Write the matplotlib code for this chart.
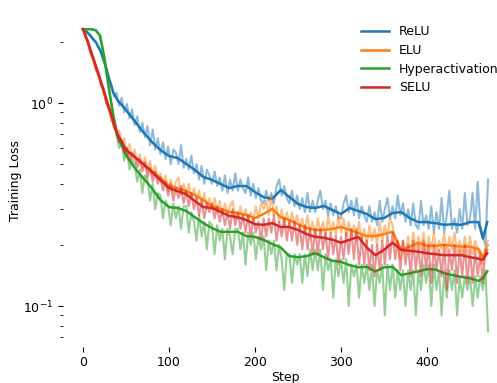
import matplotlib
matplotlib.use("Agg")
import matplotlib.pyplot as plt

plt.rcParams["font.size"] = 9

# raw training loss, one reading every 3 steps (0 .. 471)
raw_steps = list(range(0, 472, 3))

relu_raw = [2.31, 2.27, 2.19, 2.15, 2.03, 2.01, 1.86, 1.80, 1.60, 1.50,
            1.31, 1.24, 1.08, 1.12, 0.97, 1.06, 0.90, 0.99, 0.84, 0.93,
            0.78, 0.86, 0.72, 0.80, 0.68, 0.77, 0.62, 0.74, 0.59, 0.67,
            0.56, 0.64, 0.53, 0.61, 0.50, 0.59, 0.57, 0.50, 0.62, 0.48,
            0.53, 0.47, 0.55, 0.45, 0.50, 0.42, 0.49, 0.40, 0.47, 0.44,
            0.40, 0.46, 0.39, 0.43, 0.37, 0.44, 0.36, 0.42, 0.37, 0.45,
            0.37, 0.42, 0.38, 0.36, 0.43, 0.35, 0.40, 0.34, 0.38, 0.33,
            0.32, 0.37, 0.33, 0.36, 0.32, 0.39, 0.42, 0.35, 0.39, 0.34,
            0.32, 0.37, 0.31, 0.35, 0.30, 0.34, 0.29, 0.36, 0.29, 0.33,
            0.29, 0.33, 0.37, 0.30, 0.33, 0.28, 0.32, 0.28, 0.31, 0.27,
            0.27, 0.32, 0.35, 0.29, 0.33, 0.28, 0.34, 0.27, 0.31, 0.28,
            0.26, 0.31, 0.26, 0.29, 0.25, 0.33, 0.26, 0.30, 0.34, 0.27,
            0.31, 0.27, 0.35, 0.28, 0.32, 0.26, 0.30, 0.25, 0.32, 0.25,
            0.24, 0.33, 0.25, 0.28, 0.24, 0.31, 0.23, 0.29, 0.24, 0.34,
            0.23, 0.28, 0.37, 0.24, 0.27, 0.23, 0.30, 0.24, 0.36, 0.25,
            0.27, 0.36, 0.24, 0.41, 0.25, 0.22, 0.20, 0.42]

elu_raw = [2.31, 2.10, 1.98, 1.74, 1.66, 1.45, 1.40, 1.21, 1.16, 0.99,
           0.96, 0.82, 0.80, 0.69, 0.73, 0.62, 0.67, 0.56, 0.63, 0.53,
           0.59, 0.51, 0.56, 0.48, 0.54, 0.46, 0.52, 0.44, 0.49, 0.42,
           0.45, 0.40, 0.44, 0.37, 0.42, 0.36, 0.41, 0.43, 0.35, 0.40,
           0.35, 0.40, 0.34, 0.38, 0.33, 0.37, 0.31, 0.36, 0.30, 0.34,
           0.30, 0.34, 0.29, 0.33, 0.28, 0.32, 0.28, 0.31, 0.33, 0.27,
           0.27, 0.31, 0.27, 0.30, 0.26, 0.29, 0.26, 0.31, 0.27, 0.32,
           0.30, 0.33, 0.28, 0.35, 0.28, 0.31, 0.26, 0.30, 0.25, 0.29,
           0.25, 0.29, 0.25, 0.28, 0.24, 0.27, 0.23, 0.28, 0.23, 0.26,
           0.22, 0.27, 0.23, 0.26, 0.22, 0.28, 0.23, 0.26, 0.22, 0.28,
           0.23, 0.27, 0.22, 0.26, 0.22, 0.25, 0.21, 0.26, 0.21, 0.24,
           0.20, 0.25, 0.21, 0.24, 0.20, 0.26, 0.21, 0.25, 0.22, 0.27,
           0.25, 0.21, 0.20, 0.17, 0.21, 0.18, 0.22, 0.18, 0.23, 0.19,
           0.22, 0.19, 0.23, 0.18, 0.22, 0.19, 0.23, 0.18, 0.21, 0.19,
           0.23, 0.18, 0.22, 0.19, 0.23, 0.18, 0.21, 0.18, 0.22, 0.18,
           0.22, 0.18, 0.21, 0.19, 0.17, 0.16, 0.20, 0.21]

hyper_raw = [2.31, 2.31, 2.31, 2.31, 2.30, 2.28, 2.20, 2.00, 1.72, 1.42,
             1.17, 0.98, 0.83, 0.70, 0.60, 0.64, 0.52, 0.60, 0.47, 0.53,
             0.50, 0.41, 0.47, 0.36, 0.44, 0.42, 0.33, 0.40, 0.30, 0.36,
             0.35, 0.27, 0.33, 0.31, 0.25, 0.32, 0.27, 0.31, 0.24, 0.31,
             0.31, 0.23, 0.29, 0.26, 0.21, 0.28, 0.22, 0.26, 0.19, 0.26,
             0.25, 0.18, 0.25, 0.21, 0.24, 0.17, 0.24, 0.22, 0.18, 0.24,
             0.24, 0.19, 0.23, 0.16, 0.23, 0.20, 0.23, 0.17, 0.22, 0.19,
             0.22, 0.15, 0.21, 0.18, 0.21, 0.15, 0.20, 0.17, 0.12, 0.18,
             0.18, 0.13, 0.18, 0.16, 0.18, 0.13, 0.18, 0.14, 0.19, 0.15,
             0.19, 0.15, 0.19, 0.12, 0.18, 0.15, 0.17, 0.11, 0.17, 0.14,
             0.17, 0.13, 0.17, 0.10, 0.16, 0.14, 0.16, 0.11, 0.16, 0.13,
             0.16, 0.12, 0.16, 0.10, 0.15, 0.13, 0.16, 0.09, 0.16, 0.12,
             0.16, 0.11, 0.15, 0.12, 0.15, 0.10, 0.15, 0.12, 0.15, 0.09,
             0.15, 0.12, 0.16, 0.13, 0.16, 0.10, 0.16, 0.12, 0.15, 0.09,
             0.15, 0.11, 0.15, 0.12, 0.15, 0.09, 0.14, 0.11, 0.14, 0.12,
             0.14, 0.10, 0.14, 0.11, 0.14, 0.12, 0.15, 0.075]

selu_raw = [2.31, 2.12, 1.99, 1.76, 1.68, 1.47, 1.40, 1.22, 1.18, 1.00,
            0.94, 0.89, 0.75, 0.73, 0.64, 0.66, 0.57, 0.60, 0.52, 0.57,
            0.55, 0.48, 0.53, 0.46, 0.51, 0.43, 0.48, 0.41, 0.46, 0.40,
            0.43, 0.37, 0.41, 0.35, 0.40, 0.33, 0.38, 0.34, 0.39, 0.32,
            0.37, 0.31, 0.36, 0.30, 0.34, 0.28, 0.33, 0.27, 0.32, 0.29,
            0.32, 0.27, 0.31, 0.26, 0.30, 0.25, 0.29, 0.24, 0.30, 0.25,
            0.29, 0.24, 0.28, 0.23, 0.28, 0.22, 0.27, 0.23, 0.26, 0.21,
            0.27, 0.22, 0.27, 0.23, 0.28, 0.21, 0.26, 0.22, 0.27, 0.21,
            0.26, 0.21, 0.26, 0.20, 0.25, 0.19, 0.25, 0.19, 0.24, 0.18,
            0.24, 0.18, 0.24, 0.19, 0.23, 0.17, 0.23, 0.18, 0.22, 0.16,
            0.22, 0.17, 0.23, 0.18, 0.24, 0.17, 0.24, 0.16, 0.22, 0.16,
            0.21, 0.15, 0.20, 0.14, 0.20, 0.15, 0.21, 0.16, 0.22, 0.17,
            0.23, 0.17, 0.21, 0.15, 0.21, 0.16, 0.20, 0.14, 0.21, 0.15,
            0.20, 0.14, 0.21, 0.15, 0.20, 0.13, 0.20, 0.15, 0.19, 0.14,
            0.20, 0.12, 0.19, 0.15, 0.20, 0.13, 0.19, 0.14, 0.20, 0.13,
            0.19, 0.13, 0.19, 0.14, 0.18, 0.13, 0.19, 0.20]

# smoothed curves
smooth_steps = list(range(0, 41, 5)) + list(range(50, 461, 10)) + [465, 470]

relu_smooth = [2.31, 2.23, 2.11, 1.99, 1.82, 1.59, 1.33, 1.13, 1.035,
               0.924, 0.815, 0.720, 0.643, 0.587, 0.548, 0.536, 0.501, 0.468, 0.432,
               0.418, 0.399, 0.381, 0.390, 0.390, 0.364, 0.344, 0.337, 0.373, 0.344,
               0.318, 0.307, 0.304, 0.311, 0.297, 0.284, 0.304, 0.294, 0.284, 0.268,
               0.271, 0.287, 0.290, 0.271, 0.259, 0.259, 0.256, 0.251, 0.253, 0.251,
               0.259, 0.259, 0.215, 0.259]

elu_smooth = [2.31, 2.02, 1.72, 1.49, 1.29, 1.095, 0.935, 0.797, 0.704,
              0.587, 0.542, 0.501, 0.463, 0.427, 0.390, 0.381, 0.368, 0.352, 0.333,
              0.311, 0.301, 0.291, 0.287, 0.281, 0.271, 0.284, 0.301, 0.274, 0.265,
              0.253, 0.242, 0.237, 0.237, 0.240, 0.245, 0.237, 0.229, 0.221, 0.221,
              0.226, 0.232, 0.189, 0.196, 0.205, 0.198, 0.198, 0.200, 0.198, 0.196,
              0.196, 0.191, 0.174, 0.189]

hyper_smooth = [2.31, 2.31, 2.31, 2.28, 2.14, 1.66, 1.19, 0.883, 0.688,
                0.554, 0.479, 0.427, 0.381, 0.333, 0.307, 0.304, 0.294, 0.274, 0.256,
                0.242, 0.232, 0.232, 0.232, 0.221, 0.219, 0.212, 0.202, 0.194, 0.176,
                0.174, 0.176, 0.182, 0.174, 0.167, 0.165, 0.159, 0.155, 0.156, 0.148,
                0.155, 0.156, 0.142, 0.145, 0.148, 0.152, 0.151, 0.145, 0.142, 0.139,
                0.137, 0.133, 0.137, 0.148]

selu_smooth = [2.31, 2.04, 1.76, 1.52, 1.31, 1.12, 0.956, 0.815, 0.704,
               0.587, 0.542, 0.501, 0.458, 0.418, 0.381, 0.368, 0.356, 0.329, 0.307,
               0.304, 0.291, 0.278, 0.274, 0.265, 0.253, 0.251, 0.256, 0.245, 0.245,
               0.237, 0.226, 0.219, 0.217, 0.212, 0.205, 0.212, 0.219, 0.194, 0.178,
               0.189, 0.205, 0.189, 0.187, 0.185, 0.182, 0.180, 0.178, 0.178, 0.178,
               0.174, 0.171, 0.169, 0.182]

names = ["ReLU", "ELU", "Hyperactivation", "SELU"]
raws = [relu_raw, elu_raw, hyper_raw, selu_raw]
smooths = [relu_smooth, elu_smooth, hyper_smooth, selu_smooth]
colors = ["#1f77b4", "#ff7f0e", "#2ca02c", "#d62728"]

fig = plt.figure(figsize=(4.97, 3.83), dpi=100)
ax = fig.add_axes([62.8 / 497, 36.4 / 383, 444.6 / 497, 332.1 / 383])

for name, r, s, c in zip(names, raws, smooths, colors):
    ax.plot(raw_steps, r, color=c, alpha=0.5, lw=1.5)
    ax.plot(smooth_steps, s, color=c, lw=1.8, label=name)

ax.set_yscale("log")
ax.set_xlim(-23.5, 493.5)
ax.set_ylim(10 ** -1.2, 10 ** 0.436)
for sp in ax.spines.values():
    sp.set_visible(False)
ax.set_xlabel("Step", labelpad=1)
ax.set_ylabel("Training Loss", labelpad=1)
ax.legend(frameon=False, loc="upper left", bbox_to_anchor=(350 / 497, 1 - 14 / 383),
          bbox_transform=fig.transFigure, handlelength=2.2, labelspacing=0.45)

fig.savefig("out.png", dpi=100)
